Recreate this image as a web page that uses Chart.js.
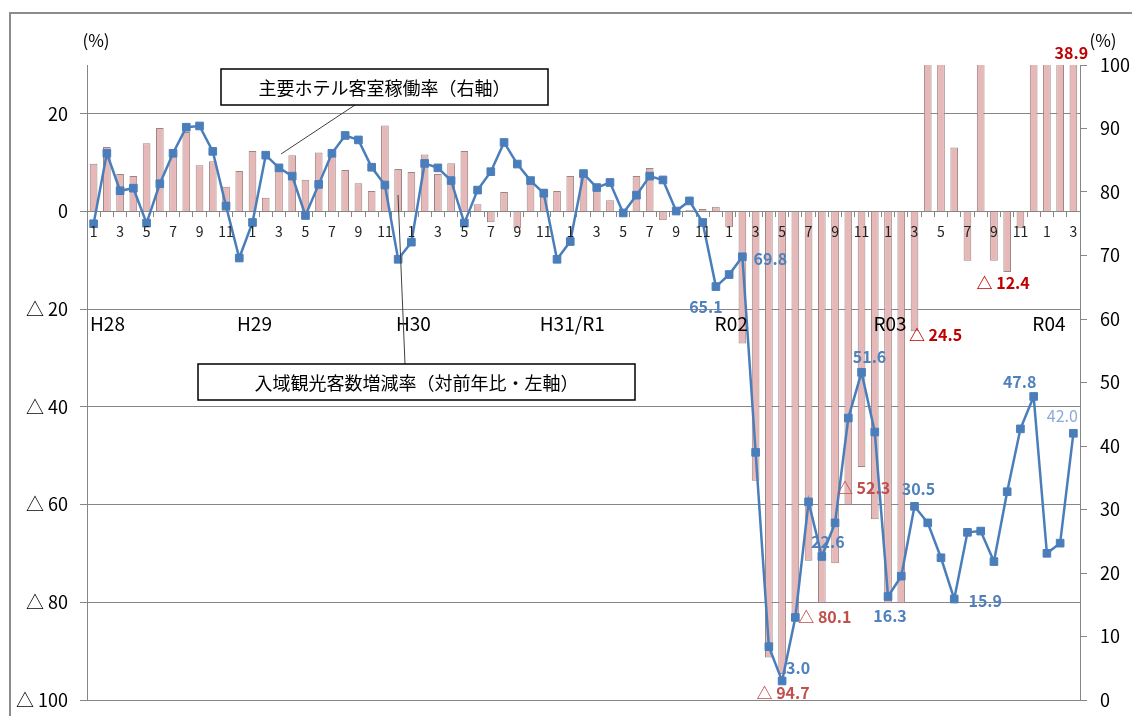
<!DOCTYPE html>
<html lang="ja">
<head>
<meta charset="utf-8">
<script src="https://cdn.jsdelivr.net/npm/chart.js@4.4.1/dist/chart.umd.min.js"></script>
<style>
  html, body { margin: 0; padding: 0; background: #fff; }
  #wrap { position: relative; width: 1132px; height: 716px; }
</style>
</head>
<body>
<div id="wrap"><canvas id="c" width="1132" height="716"></canvas></div>
<script>
// Months, January 2016 (H28) to March 2022 (R04)
const months = [
  1, 2, 3, 4, 5, 6, 7, 8, 9, 10, 11, 12,
  1, 2, 3, 4, 5, 6, 7, 8, 9, 10, 11, 12,
  1, 2, 3, 4, 5, 6, 7, 8, 9, 10, 11, 12,
  1, 2, 3, 4, 5, 6, 7, 8, 9, 10, 11, 12,
  1, 2, 3, 4, 5, 6, 7, 8, 9, 10, 11, 12,
  1, 2, 3, 4, 5, 6, 7, 8, 9, 10, 11, 12,
  1, 2, 3
];

// Year labels, one per January
const yearLabels = ['H28', 'H29', 'H30', 'H31/R1', 'R02', 'R03', 'R04'];

// 入域観光客数増減率 (year-on-year, %), left axis
const visitorChange = [
  9.8, 13.2, 7.7, 7.3, 14.0, 17.1, 11.5, 16.3, 9.5, 10.3, 5.1, 8.3,
  12.4, 2.8, 8.5, 11.5, 6.5, 12.1, 11.6, 8.5, 5.8, 4.2, 17.6, 8.7,
  8.1, 11.7, 7.7, 9.9, 12.4, 1.5, -2.2, 4.0, -3.4, 6.1, 4.7, 4.2,
  7.3, 8.0, 5.0, 2.3, 0.3, 7.3, 8.9, -1.8, 0.2, 0.3, 0.5, 1.0,
  -3.2, -27.0, -55.1, -91.3, -94.7, -83.0, -71.5, -80.1, -72.0, -60.1, -52.3, -63.0,
  -80.2, -80.2, -24.5, 210.0, 360.0, 13.1, -10.1, 35.0, -10.1, -12.4, -3.4, 80.0,
  90.0, 60.0, 38.9
];

// 主要ホテル客室稼働率 (%), right axis
const hotelOccupancy = [
  75.0, 86.1, 80.2, 80.6, 75.1, 81.3, 86.1, 90.2, 90.4, 86.4, 77.8, 69.6,
  75.2, 85.8, 83.8, 82.5, 76.3, 81.2, 86.1, 88.9, 88.2, 83.9, 81.1, 69.4,
  72.1, 84.5, 83.8, 81.8, 75.1, 80.3, 83.2, 87.8, 84.4, 81.8, 79.8, 69.4,
  72.2, 82.9, 80.7, 81.5, 76.7, 79.5, 82.5, 81.9, 77.0, 78.6, 75.2, 65.1,
  67.0, 69.8, 39.0, 8.4, 3.0, 13.0, 31.2, 22.6, 27.9, 44.4, 51.6, 42.2,
  16.3, 19.5, 30.5, 27.9, 22.4, 15.9, 26.4, 26.6, 21.8, 32.8, 42.7, 47.8,
  23.1, 24.7, 42.0
];

const leftTicks = [20, 0, -20, -40, -60, -80, -100];
const rightTicks = [0, 10, 20, 30, 40, 50, 60, 70, 80, 90, 100];

const FONT = "'Noto Sans CJK JP', 'Noto Sans', sans-serif";
const signed = v => (v < 0 ? '△ ' + Math.abs(v).toFixed(1) : v.toFixed(1));

// Value labels: which points carry one and where the text sits relative to the mark
const occupancyLabelSpots = [
  { i: 47, dx: -10, dy: 20 },
  { i: 49, dx: 28, dy: 2 },
  { i: 52, dx: 16, dy: -13 },
  { i: 55, dx: 6, dy: -15 },
  { i: 58, dx: 8, dy: -15 },
  { i: 60, dx: 2, dy: 19 },
  { i: 62, dx: 4, dy: -17 },
  { i: 65, dx: 31, dy: 2 },
  { i: 71, dx: -14, dy: -15 },
  { i: 74, dx: -11, dy: -17, soft: true }
];
const visitorLabelSpots = [
  { i: 52, dx: 1, dy: 19, soft: true },
  { i: 55, dx: 3, dy: 14, soft: true },
  { i: 58, dx: 2, dy: 21, soft: true },
  { i: 62, dx: 21, dy: 4 },
  { i: 69, dx: -4, dy: 11 },
  { i: 74, dx: -2, dy: -12 }
];

// keeps the vertical axes from reserving extra room above and below the plot
const fixedWidth = w => s => { s.width = w; s.paddingTop = 0; s.paddingBottom = 0; };

const decor = {
  id: 'decor',
  beforeDraw(chart) {
    const c = chart.ctx;
    c.save();
    c.fillStyle = '#fff';
    c.fillRect(0, 0, chart.width, chart.height);
    // outer frame
    c.strokeStyle = '#8c8c8c';
    c.lineWidth = 2;
    c.beginPath();
    c.moveTo(10, chart.height);
    c.lineTo(10, 13);
    c.lineTo(chart.width, 13);
    c.stroke();
    c.restore();
  },
  afterDatasetsDraw(chart) {
    const c = chart.ctx;
    const area = chart.chartArea;
    const x = chart.scales.x;
    const y = chart.scales.y;
    const lineMeta = chart.getDatasetMeta(0);
    const barMeta = chart.getDatasetMeta(1);
    c.save();

    // value labels
    c.textAlign = 'center';
    c.textBaseline = 'middle';
    occupancyLabelSpots.forEach(s => {
      const p = lineMeta.data[s.i];
      c.font = (s.soft ? '' : 'bold ') + '16px ' + FONT;
      c.fillStyle = s.soft ? '#8faad8' : '#4f81bd';
      c.fillText(hotelOccupancy[s.i].toFixed(1), p.x + s.dx, p.y + s.dy);
    });
    visitorLabelSpots.forEach(s => {
      const b = barMeta.data[s.i];
      const by = Math.max(area.top, Math.min(area.bottom, b.y));
      c.font = 'bold 16px ' + FONT;
      c.fillStyle = s.soft ? '#c0504d' : '#c00000';
      c.fillText(signed(visitorChange[s.i]), b.x + s.dx, by + s.dy);
    });

    // fiscal year labels under the -20 line
    c.font = '19px ' + FONT;
    c.fillStyle = '#000';
    const yearY = y.getPixelForValue(-20) + 15;
    yearLabels.forEach((t, k) => {
      const w = c.measureText(t).width;
      let left = x.getPixelForValue(k * 12) + 2 - w / 2;
      left = Math.max(left, area.left + 3);
      c.textAlign = 'left';
      c.fillText(t, left, yearY);
    });

    // unit marks
    c.font = '17px ' + FONT;
    c.textAlign = 'center';
    c.fillText('(%)', 96, 41);
    c.fillText('(%)', 1103, 41);

    // callouts naming each series
    const callouts = [
      { text: '主要ホテル客室稼働率（右軸）', box: [221, 69, 327, 36], lead: [[355, 105], [281, 154]] },
      { text: '入域観光客数増減率（対前年比・左軸）', box: [198, 364, 437, 36], lead: [[398, 195], [405, 364]] }
    ];
    callouts.forEach(co => {
      c.strokeStyle = '#404040';
      c.lineWidth = 1;
      c.beginPath();
      c.moveTo(co.lead[0][0], co.lead[0][1]);
      c.lineTo(co.lead[1][0], co.lead[1][1]);
      c.stroke();
      const [bx, by, bw, bh] = co.box;
      c.fillStyle = '#fff';
      c.fillRect(bx, by, bw, bh);
      c.strokeStyle = '#000';
      c.lineWidth = 1.5;
      c.strokeRect(bx, by, bw, bh);
      c.fillStyle = '#000';
      c.font = '18px ' + FONT;
      c.textAlign = 'center';
      c.fillText(co.text, bx + bw / 2, by + bh / 2 + 1);
    });
    c.restore();
  }
};

new Chart(document.getElementById('c'), {
  type: 'bar',
  data: {
    labels: months,
    datasets: [
      {
        type: 'line',
        label: '主要ホテル客室稼働率（右軸）',
        data: hotelOccupancy,
        yAxisID: 'y1',
        order: 0,
        borderColor: '#4a7ebb',
        backgroundColor: '#4a7ebb',
        borderWidth: 2.5,
        pointStyle: 'rect',
        pointRadius: 5.4,
        pointBorderWidth: 1,
        pointBackgroundColor: '#4a7ebb',
        pointBorderColor: '#4a7ebb',
        tension: 0,
        clip: false
      },
      {
        type: 'bar',
        label: '入域観光客数増減率（対前年比・左軸）',
        data: visitorChange,
        yAxisID: 'y',
        order: 1,
        backgroundColor: '#e6b8b7',
        borderColor: '#9b8585',
        borderWidth: 1,
        barPercentage: 0.58,
        categoryPercentage: 1,
        clip: 0
      }
    ]
  },
  options: {
    responsive: false,
    animation: false,
    devicePixelRatio: 1,
    layout: { padding: { left: 0, right: 0, top: 65, bottom: 16 } },
    plugins: { legend: { display: false }, tooltip: { enabled: false } },
    scales: {
      x: {
        type: 'category',
        position: { y: 0 },
        offset: true,
        grid: { display: true, drawOnChartArea: false, drawTicks: true, tickLength: 5, color: '#868686', offset: true },
        border: { display: true, color: '#868686', width: 1 },
        ticks: {
          autoSkip: false, maxRotation: 0, minRotation: 0, padding: 7, z: 1,
          color: '#222', font: { family: FONT, size: 14 },
          callback: (v, i) => (months[i] % 2 === 1 ? String(months[i]) : '')
        }
      },
      y: {
        position: 'left',
        min: -100,
        max: 30,
        afterBuildTicks: s => { s.ticks = leftTicks.map(v => ({ value: v })); },
        afterFit: fixedWidth(87),
        grid: { color: '#868686', lineWidth: 1, drawTicks: true, tickLength: 7 },
        border: { display: true, color: '#868686', width: 1 },
        ticks: {
          padding: 12, color: '#000', font: { family: FONT, size: 18 },
          callback: v => (v < 0 ? '△ ' + (-v) : String(v))
        }
      },
      y1: {
        position: 'right',
        min: 0,
        max: 100,
        afterBuildTicks: s => { s.ticks = rightTicks.map(v => ({ value: v })); },
        afterFit: fixedWidth(52),
        grid: { drawOnChartArea: false, color: '#868686', drawTicks: true, tickLength: 7 },
        border: { display: true, color: '#868686', width: 1 },
        ticks: { padding: 13, color: '#000', font: { family: FONT, size: 18 } }
      }
    }
  },
  plugins: [decor]
});
</script>
</body>
</html>
